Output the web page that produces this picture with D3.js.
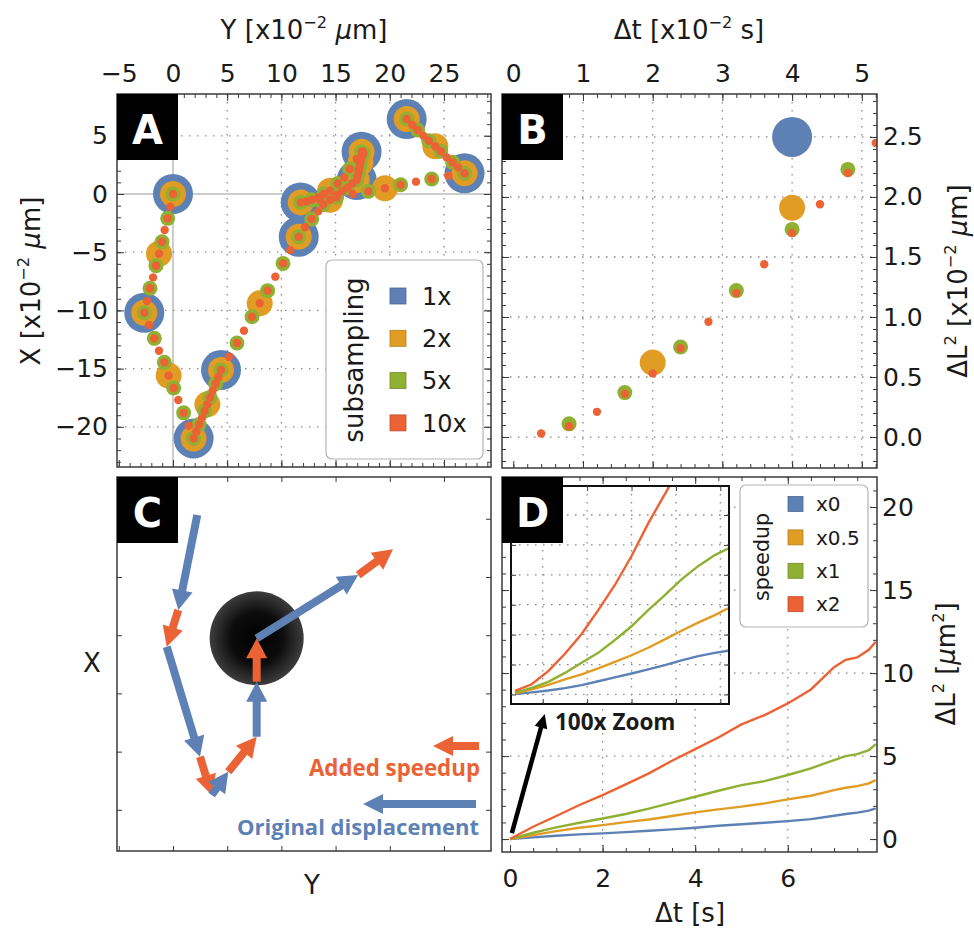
<!DOCTYPE html>
<html lang="en">
<head>
<meta charset="utf-8">
<title>Subsampling and speedup</title>
<style>
body { margin: 0; background: #fff; }
svg text { font-family: "DejaVu Sans", sans-serif; fill: #1a1a1a; }
.grid line { stroke: #8a8a8a; stroke-width: 1.3; stroke-dasharray: 1.5,6.5; }
.grid line.zero { stroke: #9a9a9a; stroke-width: 1; stroke-dasharray: none; }
.frame { fill: none; stroke: #3a3a3a; stroke-width: 1.5; }
.axis path { display: none; }
.axis line { stroke: #3a3a3a; stroke-width: 1; }
.axis text { font-size: 25px; }
.note { font-family: "Open Sans", sans-serif; font-weight: 700; }
</style>
</head>
<body>
<div id="chart"></div>
<script src="https://d3js.org/d3.v7.min.js"></script>
<script>
var blue = "#5e81b5", orange = "#e19c24", green = "#8fb032", red = "#eb6235";

// A: trajectory at the finest sampling (10x), Y and X in 1e-2 um
var trajY = [0, -0.25, -0.49, -0.77, -1.01, -1.29, -1.57, -1.84, -2.12, -2.40,
  -2.65, -2.21, -1.72, -1.29, -0.80, -0.40, 0.06, 0.49, 0.98, 1.45,
  1.90, 2.15, 2.40, 2.68, 2.92, 3.17, 3.41, 3.66, 3.94, 4.18,
  4.43, 5.17, 5.90, 6.55, 7.29, 8.00, 8.73, 9.44, 10.15, 10.82,
  11.60, 12.18, 12.80, 13.40, 13.87, 14.50, 15.10, 15.60, 16.10, 16.55,
  16.95, 17.00, 17.10, 17.15, 17.25, 17.30, 17.35, 17.45, 17.55, 17.50,
  17.40, 16.95, 16.30, 15.80, 15.20, 14.50, 13.90, 13.40, 12.80, 12.30,
  11.78, 13.56, 15.10, 16.58, 18.02, 19.56, 21.00, 22.42, 23.87, 25.40,
  26.90, 26.30, 25.80, 25.25, 24.70, 24.20, 23.60, 23.10, 22.57, 22.08, 21.56];
var trajX = [0, -1.09, -2.09, -3.09, -4.10, -5.13, -6.16, -7.16, -8.10, -9.19,
  -10.20, -11.25, -12.40, -13.46, -14.46, -15.60, -16.67, -17.70, -18.80, -19.90,
  -21.00, -20.40, -19.80, -19.24, -18.64, -18.07, -17.47, -16.90, -16.30, -15.72,
  -15.12, -13.98, -12.80, -11.74, -10.54, -9.39, -8.30, -7.10, -5.96, -4.81,
  -3.67, -2.86, -2.15, -1.49, -0.90, -0.50, -0.10, 0.25, 0.55, 0.90,
  1.20, 1.50, 1.80, 2.10, 2.40, 2.70, 3.00, 3.25, 3.50, 3.65,
  3.63, 3.00, 2.15, 1.43, 0.90, 0.28, 0.00, -0.30, -0.50, -0.65,
  -0.72, -0.52, -0.28, 0.00, 0.23, 0.49, 0.80, 1.06, 1.29, 1.57,
  1.78, 2.29, 2.72, 3.15, 3.67, 4.10, 4.58, 5.00, 5.50, 5.93, 6.44];
var subNames = ["1x", "2x", "5x", "10x"];
var subFactors = [1, 2, 5, 10];
var subColors = [blue, orange, green, red];
var subRadius = [20, 13, 7.5, 4.2];

// B: MSD vs lag (x1e-2 s, x1e-2 um) for each subsampling
var lag1 = [4], msd1 = [2.50];
var lag2 = [2, 4], msd2 = [0.62, 1.91];
var lag5 = [0.8, 1.6, 2.4, 3.2, 4.0, 4.8], msd5 = [0.11, 0.37, 0.75, 1.22, 1.73, 2.23];
var lag10 = [0.4, 0.8, 1.2, 1.6, 2.0, 2.4, 2.8, 3.2, 3.6, 4.0, 4.4, 4.8, 5.2];
var msd10 = [0.03, 0.09, 0.21, 0.36, 0.53, 0.74, 0.96, 1.20, 1.44, 1.70, 1.94, 2.20, 2.45];

// C: schematic path, alternating original displacement / added speedup
var sketchY = [2.24, 0.49, -0.58, 2.49, 3.57, 5.10, 7.72, 7.72, 7.72, 17.09, 20.30];
var sketchX = [5.33, -2.84, -5.99, -15.44, -18.73, -16.73, -13.72, -9.00, -5.27, 0.17, 2.38];

// D: MSD (um^2) vs lag (s) for each speedup
var speedNames = ["x0", "x0.5", "x1", "x2"];
var speedColors = [blue, orange, green, red];
var lagD = [0, 0.5, 1, 1.5, 2, 2.5, 3, 3.5, 4, 4.5, 5, 5.5, 6, 6.5, 7, 7.25, 7.5, 7.75, 7.9];
var msdX0 = [0, 0.10, 0.20, 0.28, 0.34, 0.42, 0.50, 0.58, 0.68, 0.80, 0.89, 0.98, 1.08, 1.20, 1.40, 1.51, 1.59, 1.71, 1.85];
var msdX05 = [0, 0.24, 0.48, 0.68, 0.84, 1.02, 1.18, 1.39, 1.61, 1.79, 1.95, 2.15, 2.39, 2.61, 2.95, 3.09, 3.19, 3.35, 3.55];
var msdX1 = [0, 0.38, 0.70, 0.98, 1.24, 1.51, 1.83, 2.19, 2.55, 2.91, 3.25, 3.49, 3.86, 4.26, 4.76, 5.00, 5.12, 5.36, 5.72];
var msdX2 = [0, 0.74, 1.39, 2.05, 2.65, 3.29, 3.96, 4.72, 5.42, 6.12, 6.91, 7.47, 8.17, 9.01, 10.35, 10.80, 10.94, 11.40, 11.89];

// D inset: 100x zoom on the start of the curves
var lagZ = [0.0075, 0.015, 0.0225, 0.03, 0.0375, 0.045, 0.0525, 0.06, 0.0675, 0.075, 0.0825, 0.09, 0.0975, 0.1035];
var zoomX0 = [0.0001, 0.0007, 0.0013, 0.0021, 0.0031, 0.0044, 0.0057, 0.0070, 0.0084, 0.0098, 0.0114, 0.0128, 0.0139, 0.0146];
var zoomX05 = [0.0003, 0.0017, 0.0032, 0.0050, 0.0067, 0.0087, 0.0109, 0.0131, 0.0156, 0.0184, 0.0213, 0.0240, 0.0265, 0.0288];
var zoomX1 = [0.0005, 0.0022, 0.0042, 0.0072, 0.0106, 0.0139, 0.0182, 0.0228, 0.0282, 0.0332, 0.0385, 0.0429, 0.0466, 0.0488];
var zoomX2 = [0.0012, 0.0034, 0.0078, 0.0136, 0.0202, 0.0282, 0.0366, 0.0463, 0.0572, 0.0670, 0.0767, 0.0860, 0.0950, 0.1030];

var W = 974, H = 932;
var svg = d3.select("#chart").append("svg").attr("width", W).attr("height", H);
svg.append("rect").attr("width", W).attr("height", H).attr("fill", "#fff");
var defs = svg.append("defs");

var boxA = {l: 117, t: 94, r: 491, b: 467},
    boxB = {l: 502, t: 94, r: 877, b: 468},
    boxC = {l: 117, t: 477, r: 491, b: 851},
    boxD = {l: 502, t: 477, r: 877, b: 852},
    boxI = {l: 511, t: 486, r: 729, b: 704};

var xA = d3.scaleLinear().domain([-5.166, 29.34]).range([boxA.l, boxA.r]);
var yA = d3.scaleLinear().domain([-23.45, 8.59]).range([boxA.b, boxA.t]);
var yC = d3.scaleLinear().domain([-23.45, 8.59]).range([boxC.b - 1, boxC.t]);
var xB = d3.scaleLinear().domain([-0.162, 5.218]).range([boxB.l, boxB.r]);
var yB = d3.scaleLinear().domain([-0.258, 2.858]).range([boxB.b, boxB.t]);
var xD = d3.scaleLinear().domain([-0.173, 7.927]).range([boxD.l, boxD.r]);
var yD = d3.scaleLinear().domain([-0.78, 21.81]).range([boxD.b, boxD.t]);
var xI = d3.scaleLinear().domain([0.0057, 0.1039]).range([boxI.l, boxI.r]);
var yI = d3.scaleLinear().domain([-0.0032, 0.0697]).range([boxI.b, boxI.t]);

function clip(id, b) {
  defs.append("clipPath").attr("id", id).append("rect")
    .attr("x", b.l).attr("y", b.t).attr("width", b.r - b.l).attr("height", b.b - b.t);
  return "url(#" + id + ")";
}

// dotted grid; solidZero draws the axes through the origin as plain lines
function grid(g, x, y, b, xv, yv, solidZero) {
  var gg = g.append("g").attr("class", "grid");
  var cls = function(d) { return solidZero && d === 0 ? "zero" : null; };
  gg.selectAll(".gx").data(xv).enter().append("line").attr("class", cls)
    .attr("x1", x).attr("x2", x).attr("y1", b.t).attr("y2", b.b);
  gg.selectAll(".gy").data(yv).enter().append("line").attr("class", cls)
    .attr("y1", y).attr("y2", y).attr("x1", b.l).attr("x2", b.r);
}

// inward ticks on all four sides, labels only where asked
function frame(g, x, y, b, o) {
  g.append("rect").attr("class", "frame")
    .attr("x", b.l).attr("y", b.t).attr("width", b.r - b.l).attr("height", b.b - b.t);
  var sides = [
    {make: d3.axisTop, sc: x, tr: [0, b.t], maj: o.xMaj, min: o.xMin, lab: o.top},
    {make: d3.axisBottom, sc: x, tr: [0, b.b], maj: o.xMaj, min: o.xMin, lab: o.bottom},
    {make: d3.axisLeft, sc: y, tr: [b.l, 0], maj: o.yMaj, min: o.yMin, lab: o.left},
    {make: d3.axisRight, sc: y, tr: [b.r, 0], maj: o.yMaj, min: o.yMin, lab: o.right}
  ];
  sides.forEach(function(s) {
    if (s.min) {
      g.append("g").attr("class", "axis").attr("transform", "translate(" + s.tr + ")")
        .call(s.make(s.sc).tickValues(s.min).tickSize(-o.minLen).tickFormat(""))
        .attr("font-size", null).attr("font-family", null);
    }
    var ax = s.make(s.sc).tickValues(s.maj).tickSizeInner(-o.majLen).tickSizeOuter(0);
    if (s.lab) ax.tickFormat(s.lab.fmt).tickPadding(s.lab.pad);
    else ax.tickFormat("");
    g.append("g").attr("class", "axis").attr("transform", "translate(" + s.tr + ")")
      .call(ax).attr("font-size", null).attr("font-family", null);
  });
}

function rich(t, parts, size) {
  var up = 0;
  parts.forEach(function(p) {
    var ts = t.append("tspan").text(p.t);
    var want = p.sup ? -size * 0.42 : 0;
    if (want !== up) { ts.attr("dy", want - up); up = want; }
    if (p.sup) ts.attr("font-size", size * 0.62);
    if (p.it) ts.attr("font-style", "italic");
  });
  return t;
}

function title(x, y, rot, parts, size) {
  var t = svg.append("text").attr("font-size", size).attr("text-anchor", "middle")
    .attr("transform", "translate(" + x + "," + y + ")" + (rot ? " rotate(" + rot + ")" : ""));
  return rich(t, parts, size);
}

function arrowPath(x1, y1, x2, y2, w, hl, hw) {
  var dx = x2 - x1, dy = y2 - y1, L = Math.hypot(dx, dy);
  var ux = dx / L, uy = dy / L, nx = -uy, ny = ux;
  var h = Math.min(hl, L);
  var bx = x2 - ux * h, by = y2 - uy * h;
  var p = [[x1 + nx * w / 2, y1 + ny * w / 2], [bx + nx * w / 2, by + ny * w / 2],
    [bx + nx * hw / 2, by + ny * hw / 2], [x2, y2], [bx - nx * hw / 2, by - ny * hw / 2],
    [bx - nx * w / 2, by - ny * w / 2], [x1 - nx * w / 2, y1 - ny * w / 2]];
  return "M" + p.join("L") + "Z";
}

function panelLabel(b, letter) {
  svg.append("rect").attr("x", b.l).attr("y", b.t).attr("width", 61).attr("height", 66).attr("fill", "#000");
  svg.append("text").attr("x", b.l + 30.5).attr("y", b.t + 50).attr("text-anchor", "middle")
    .attr("font-size", 40).attr("font-weight", "bold").style("fill", "#fff").text(letter);
}

function legendBox(g, x, y, w, h) {
  g.append("rect").attr("x", x).attr("y", y).attr("width", w).attr("height", h)
    .attr("rx", 6).attr("fill", "#fff").attr("stroke", "#b4b4b4").attr("stroke-width", 1.2);
}

var fmtInt = d3.format("d"), fmt1 = d3.format(".1f");

// ---------- panel A ----------
var gA = svg.append("g");
grid(gA, xA, yA, boxA, [0, 5, 10, 15, 20, 25], [-20, -15, -10, -5, 0, 5], true);
var dotsA = gA.append("g").attr("clip-path", clip("cA", boxA));
subFactors.forEach(function(f, k) {
  var step = 10 / f;
  var idx = d3.range(0, trajY.length, step);
  dotsA.selectAll(".s" + k).data(idx).enter().append("circle")
    .attr("cx", function(i) { return xA(trajY[i]); })
    .attr("cy", function(i) { return yA(trajX[i]); })
    .attr("r", subRadius[k]).attr("fill", subColors[k]);
});
frame(gA, xA, yA, boxA, {
  xMaj: [-5, 0, 5, 10, 15, 20, 25], xMin: d3.range(-5, 30, 1),
  yMaj: [-20, -15, -10, -5, 0, 5], yMin: d3.range(-23, 9, 1),
  majLen: 7, minLen: 4,
  top: {fmt: fmtInt, pad: 12}, left: {fmt: fmtInt, pad: 9}
});
legendBox(gA, 326, 260, 157, 199);
gA.append("text").attr("transform", "translate(363,360) rotate(-90)")
  .attr("text-anchor", "middle").attr("font-size", 26).text("subsampling");
subNames.forEach(function(n, k) {
  var cy = 296 + k * 42.3;
  gA.append("rect").attr("x", 390).attr("y", cy - 8).attr("width", 16).attr("height", 16)
    .attr("fill", subColors[k]).attr("stroke", d3.color(subColors[k]).darker(0.6)).attr("stroke-width", 0.8);
  gA.append("text").attr("x", 422).attr("y", cy).attr("dy", "0.36em").attr("font-size", 24).text(n);
});
title(304, 39, 0, [{t: "Y [x10"}, {t: "\u22122", sup: 1}, {t: " "}, {t: "\u03bc", it: 1}, {t: "m]"}], 26);
title(40, 281, -90, [{t: "X [x10"}, {t: "\u22122", sup: 1}, {t: " "}, {t: "\u03bc", it: 1}, {t: "m]"}], 26);
panelLabel(boxA, "A");

// ---------- panel B ----------
var gB = svg.append("g");
grid(gB, xB, yB, boxB, [1, 2, 3, 4, 5], [0, 0.5, 1, 1.5, 2, 2.5], false);
var dotsB = gB.append("g").attr("clip-path", clip("cB", boxB));
[[lag1, msd1], [lag2, msd2], [lag5, msd5], [lag10, msd10]].forEach(function(s, k) {
  dotsB.selectAll(".b" + k).data(d3.range(s[0].length)).enter().append("circle")
    .attr("cx", function(i) { return xB(s[0][i]); })
    .attr("cy", function(i) { return yB(s[1][i]); })
    .attr("r", subRadius[k]).attr("fill", subColors[k]);
});
frame(gB, xB, yB, boxB, {
  xMaj: [0, 1, 2, 3, 4, 5], xMin: d3.range(0, 5.21, 0.2),
  yMaj: [0, 0.5, 1, 1.5, 2, 2.5], yMin: d3.range(-0.2, 2.86, 0.1),
  majLen: 7, minLen: 4,
  top: {fmt: fmtInt, pad: 12}, right: {fmt: fmt1, pad: 6}
});
title(689, 39, 0, [{t: "\u0394t [x10"}, {t: "\u22122", sup: 1}, {t: " s]"}], 26);
title(967, 281, -90, [{t: "\u0394L"}, {t: "2", sup: 1}, {t: " [x10"}, {t: "\u22122", sup: 1}, {t: " "}, {t: "\u03bc", it: 1}, {t: "m]"}], 26);
panelLabel(boxB, "B");

// ---------- panel C ----------
var gC = svg.append("g");
var grad = defs.append("radialGradient").attr("id", "ball");
grad.append("stop").attr("offset", "0%").attr("stop-color", "#000");
grad.append("stop").attr("offset", "55%").attr("stop-color", "#0c0c0c");
grad.append("stop").attr("offset", "100%").attr("stop-color", "#3d3d3d");
gC.append("circle").attr("cx", xA(sketchY[8])).attr("cy", yC(sketchX[8])).attr("r", 47).attr("fill", "url(#ball)");
var segs = d3.range(sketchY.length - 1);
[1, 0].forEach(function(par) {
  gC.selectAll(".seg" + par).data(segs.filter(function(i) { return i % 2 === par; })).enter().append("path")
    .attr("fill", par ? red : blue)
    .attr("d", function(i) {
      return arrowPath(xA(sketchY[i]), yC(sketchX[i]), xA(sketchY[i + 1]), yC(sketchX[i + 1]), 8, 20, 21);
    });
});
frame(gC, xA, yC, boxC, {
  xMaj: [-5, 0, 5, 10, 15, 20, 25], xMin: null,
  yMaj: [-20, -15, -10, -5, 0, 5], yMin: null,
  majLen: 5, minLen: 3
});
gC.append("path").attr("fill", red).attr("d", arrowPath(479, 746, 433, 746, 8, 20, 20));
gC.append("path").attr("fill", blue).attr("d", arrowPath(476, 804, 363, 804, 8, 20, 20));
gC.append("text").attr("class", "note").attr("x", 480).attr("y", 776).attr("text-anchor", "end")
  .attr("font-size", 22.3).style("fill", red).text("Added speedup");
gC.append("text").attr("class", "note").attr("x", 479).attr("y", 835).attr("text-anchor", "end")
  .attr("font-size", 22).style("fill", blue).text("Original displacement");
svg.append("text").attr("x", 92).attr("y", 672).attr("text-anchor", "middle").attr("font-size", 26).text("X");
svg.append("text").attr("x", 312).attr("y", 894).attr("text-anchor", "middle").attr("font-size", 26).text("Y");
panelLabel(boxC, "C");

// ---------- panel D ----------
var gD = svg.append("g");
grid(gD, xD, yD, boxD, [2, 4, 6], [5, 10, 15, 20], false);
var seriesD = [msdX0, msdX05, msdX1, msdX2];
var lineD = d3.line().x(function(d, i) { return xD(lagD[i]); }).y(function(d) { return yD(d); });
gD.append("g").attr("clip-path", clip("cD", boxD)).selectAll("path").data(seriesD).enter().append("path")
  .attr("d", lineD).attr("fill", "none").attr("stroke-width", 2.4)
  .attr("stroke", function(d, i) { return speedColors[i]; });
frame(gD, xD, yD, boxD, {
  xMaj: [0, 2, 4, 6], xMin: d3.range(0, 7.9, 0.5),
  yMaj: [0, 5, 10, 15, 20], yMin: d3.range(0, 21.5, 1),
  majLen: 7, minLen: 4,
  bottom: {fmt: fmtInt, pad: 17}, right: {fmt: fmtInt, pad: 5}
});
// zoom arrow and note
gD.append("path").attr("fill", "#000")
  .attr("d", arrowPath(xD(0.04), yD(0.36), xD(0.75), yD(7.53), 4.5, 14, 13));
gD.append("text").attr("class", "note").attr("x", 555).attr("y", 730).attr("font-size", 22.5).text("100x Zoom");

// inset
var gI = svg.append("g");
gI.append("rect").attr("x", boxI.l).attr("y", boxI.t).attr("width", boxI.r - boxI.l)
  .attr("height", boxI.b - boxI.t).attr("fill", "#fff");
grid(gI, xI, yI, boxI, [0.02, 0.04, 0.06, 0.08, 0.1], [0, 0.01, 0.02, 0.03, 0.04, 0.05, 0.06], false);
var seriesI = [zoomX0, zoomX05, zoomX1, zoomX2];
var lineI = d3.line().x(function(d, i) { return xI(lagZ[i]); }).y(function(d) { return yI(d); });
gI.append("g").attr("clip-path", clip("cI", boxI)).selectAll("path").data(seriesI).enter().append("path")
  .attr("d", lineI).attr("fill", "none").attr("stroke-width", 2.4)
  .attr("stroke", function(d, i) { return speedColors[i]; });
frame(gI, xI, yI, boxI, {
  xMaj: [0.02, 0.04, 0.06, 0.08, 0.1], xMin: null,
  yMaj: [0, 0.01, 0.02, 0.03, 0.04, 0.05, 0.06], yMin: null,
  majLen: 5, minLen: 3
});
gI.selectAll(".frame").style("stroke", "#111").style("stroke-width", 2);

// speedup legend
legendBox(gD, 740, 485, 128, 142);
gD.append("text").attr("transform", "translate(769,557) rotate(-90)")
  .attr("text-anchor", "middle").attr("font-size", 20.5).text("speedup");
speedNames.forEach(function(n, k) {
  var cy = 504 + k * 33.4;
  gD.append("rect").attr("x", 788).attr("y", cy - 7.5).attr("width", 15).attr("height", 15)
    .attr("fill", speedColors[k]).attr("stroke", d3.color(speedColors[k]).darker(0.6)).attr("stroke-width", 0.8);
  gD.append("text").attr("x", 816).attr("y", cy).attr("dy", "0.36em").attr("font-size", 20).text(n);
});
title(690, 922, 0, [{t: "\u0394t [s]"}], 26);
title(955, 664, -90, [{t: "\u0394L"}, {t: "2", sup: 1}, {t: " ["}, {t: "\u03bc", it: 1}, {t: "m"}, {t: "2", sup: 1}, {t: "]"}], 26);
panelLabel(boxD, "D");
</script>
</body>
</html>
